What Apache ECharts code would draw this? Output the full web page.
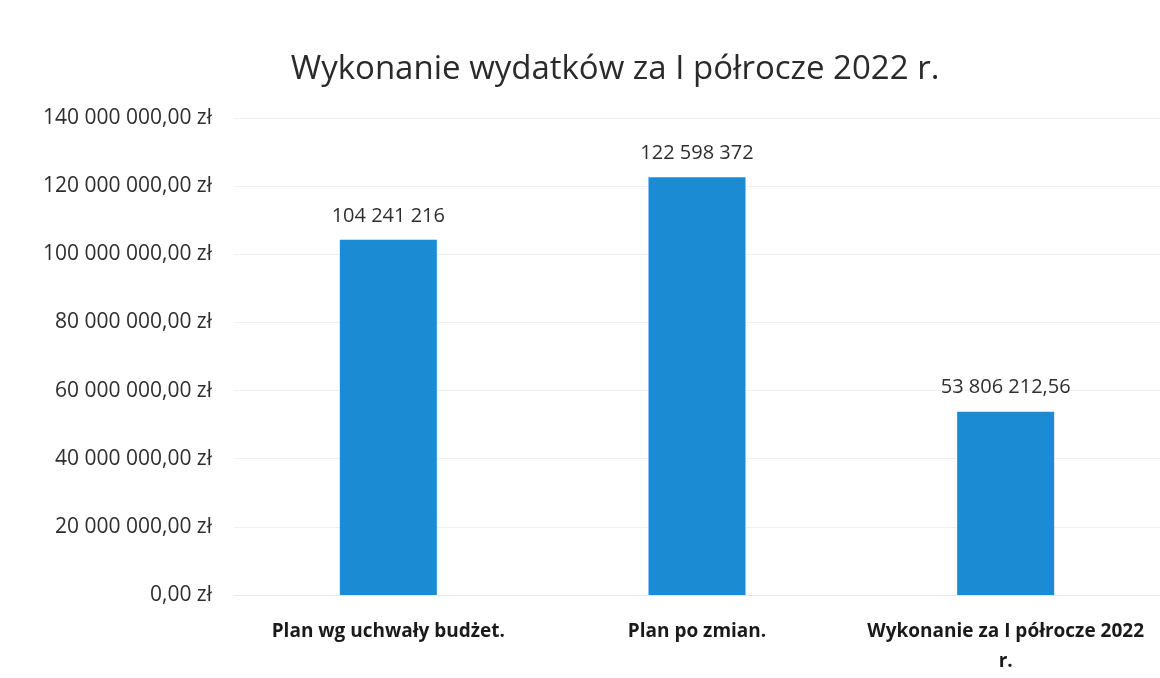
<!DOCTYPE html>
<html>
<head>
<meta charset="utf-8">
<script src="https://cdn.jsdelivr.net/npm/echarts@6/dist/echarts.min.js"></script>
<style>
  html, body { margin: 0; padding: 0; background: #fff; }
  #chart { width: 1160px; height: 678px; }
</style>
</head>
<body>
<div id="chart"></div>
<script>
// dane z wykresu
const categories = ['Plan wg uchwały budżet.', 'Plan po zmian.', 'Wykonanie za I półrocze 2022 r.'];
const values = [104241216, 122598372, 53806212.56];
const chartTitle = 'Wykonanie wydatków za I półrocze 2022 r.';

// 1234567 -> "1 234 567"
function groupDigits(n) {
  return String(n).replace(/\B(?=(\d{3})+(?!\d))/g, ' ');
}

function formatZl(v) {
  const parts = v.toFixed(2).split('.');
  return groupDigits(parts[0]) + ',' + parts[1] + ' zł';
}

function formatLabel(v) {
  if (Number.isInteger(v)) return groupDigits(v);
  const parts = v.toFixed(2).split('.');
  return groupDigits(parts[0]) + ',' + parts[1];
}

const chart = echarts.init(document.getElementById('chart'));

chart.setOption({
  backgroundColor: '#fff',
  animation: false,
  title: {
    text: chartTitle,
    left: 610,
    top: 48,
    textAlign: 'center',
    textStyle: { fontFamily: 'Open Sans', fontSize: 33, fontWeight: 'normal', color: '#2a2a2a' },
  },
  grid: { left: 234, right: 0, top: 118, bottom: 83 },
  xAxis: {
    type: 'category',
    data: categories,
    axisLine: { show: true, lineStyle: { color: '#e6e6e6' } },
    axisTick: { show: false },
    axisLabel: {
      interval: 0,
      margin: 22,
      lineHeight: 30,
      fontFamily: 'Open Sans',
      fontSize: 19,
      fontWeight: 'bold',
      color: '#1a1a1a',
      // w oryginale "r." spada do drugiej linii
      formatter: (v) => v.replace(/ (r\.)$/, '\n$1'),
    },
  },
  yAxis: {
    type: 'value',
    min: 0,
    max: 140000000,
    interval: 20000000,
    axisLine: { show: false },
    axisTick: { show: false },
    splitLine: { lineStyle: { color: '#f0f0f0' } },
    axisLabel: {
      margin: 22,
      fontFamily: 'Open Sans',
      fontSize: 21,
      color: '#2e2e2e',
      formatter: (v) => formatZl(v),
    },
  },
  series: [
    {
      type: 'bar',
      data: values,
      barWidth: 97,
      itemStyle: { color: '#1b8cd4' },
      label: {
        show: true,
        position: 'top',
        distance: 14,
        fontFamily: 'Open Sans',
        fontSize: 20,
        color: '#2e2e2e',
        formatter: (p) => formatLabel(p.value),
      },
    },
  ],
});
</script>
</body>
</html>
